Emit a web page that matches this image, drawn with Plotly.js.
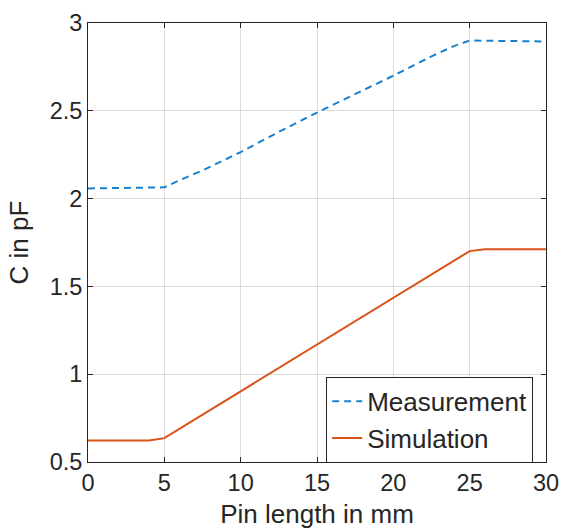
<!DOCTYPE html>
<html>
<head>
<meta charset="utf-8">
<script src="https://cdn.plot.ly/plotly-3.0.1.min.js"></script>
<style>html,body{margin:0;padding:0;background:#fff;}#chart{width:561px;height:531px;}</style>
</head>
<body>
<div id="chart"></div>
<script>
// Measurement (dashed blue)
var measX = [0, 2.5, 5, 6, 7.5, 10, 12.5, 15, 17.5, 20, 22.5, 24, 25, 27.5, 30];
var measY = [2.058, 2.06, 2.064, 2.105, 2.16, 2.265, 2.38, 2.49, 2.595, 2.70, 2.81, 2.87, 2.90, 2.896, 2.895];
// Simulation (solid orange)
var simX = [0, 4, 5, 10, 15, 20, 25, 26, 30];
var simY = [0.622, 0.622, 0.636, 0.902, 1.168, 1.434, 1.701, 1.711, 1.711];
var xTicks = [0, 5, 10, 15, 20, 25, 30];
var yTicks = [0.5, 1, 1.5, 2, 2.5, 3];
var yTickText = ['0.5', '1', '1.5', '2', '2.5', '3'];

var font = 'Liberation Sans, Arial, Helvetica, sans-serif';
var textColor = '#262626';

var traces = [
  {x: measX, y: measY, mode: 'lines', name: 'Measurement',
   line: {color: '#1a80cc', width: 2, dash: '7px,5px'}},
  {x: simX, y: simY, mode: 'lines', name: 'Simulation',
   line: {color: '#D95319', width: 2}}
];

var axisCommon = {
  showline: true, mirror: 'ticks', linecolor: '#262626', linewidth: 1,
  ticks: 'inside', ticklen: 5, tickwidth: 1, tickcolor: '#262626',
  showgrid: true, gridcolor: '#dcdcdc', gridwidth: 1, zeroline: false,
  tickfont: {family: font, size: 23.5, color: textColor}
};

var layout = {
  width: 561, height: 531,
  margin: {l: 88, r: 15, t: 23, b: 69},
  paper_bgcolor: '#fff', plot_bgcolor: '#fff',
  showlegend: true,
  font: {family: font, color: textColor},
  xaxis: Object.assign({}, axisCommon, {
    range: [0, 30], tickvals: xTicks,
    title: {text: 'Pin length in mm', font: {family: font, size: 26, color: textColor}, standoff: 9}
  }),
  yaxis: Object.assign({}, axisCommon, {
    range: [0.5, 3], tickvals: yTicks, ticktext: yTickText,
    title: {text: 'C in pF', font: {family: font, size: 26, color: textColor}, standoff: 13}
  }),
  legend: {
    x: 0.52, y: 0.194, xanchor: 'left', yanchor: 'top',
    bgcolor: '#fff', bordercolor: '#262626', borderwidth: 1,
    font: {family: font, size: 26, color: textColor},
    tracegroupgap: 0
  }
};

Plotly.newPlot('chart', traces, layout, {displayModeBar: false, staticPlot: true});
</script>
</body>
</html>
